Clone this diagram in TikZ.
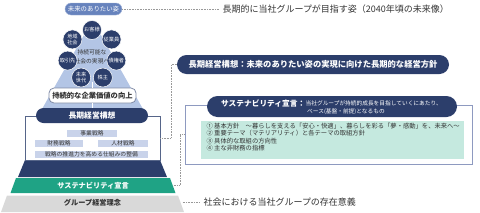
\documentclass[tikz,border=0pt]{standalone}
\usepackage{fontspec}
\setmainfont{Noto Sans CJK JP}
\usepackage{xcolor}
\usepackage{tikz}
\usepackage{tkz-euclide}
\usetikzlibrary{positioning}
\newcommand{\fsz}[2]{\fontsize{#1}{#2}\selectfont}
\definecolor{navy}{HTML}{2C3E6B}
\definecolor{steel}{HTML}{6783BD}
\definecolor{skyfill}{HTML}{B3C5E5}
\definecolor{stratfill}{HTML}{C9D3EA}
\definecolor{sdgreen}{HTML}{1FA385}
\definecolor{bandgrey}{HTML}{D9D9D9}
\definecolor{mint}{HTML}{C5E9DF}
\definecolor{frameline}{HTML}{8E9AC0}
\definecolor{textdark}{HTML}{333333}

\begin{document}
\begin{tikzpicture}[x=1pt,y=-1pt,
  conn/.style={draw=gray!80,line width=0.4pt,dash pattern=on 0.8pt off 0.8pt},
  pill/.style={rounded corners=9pt,fill=navy,text=white,inner sep=0pt},
  stake/.style={circle,fill=navy,draw=white,line width=0.5pt,text=white,
    minimum size=19pt,inner sep=0pt,align=center,font=\fsz{5.2}{6.3}},
  strat/.style={fill=stratfill,text=textdark,minimum height=7pt,inner sep=0pt,
    font=\fsz{5.8}{6}},
  band/.style={minimum height=14pt,inner sep=0pt,font=\fsz{7.2}{8}\bfseries},
  item/.style={right,text=textdark,font=\fsz{6.3}{7}}]
\useasboundingbox (0,0) rectangle (480,212);

% pyramid
\fill[skyfill] (92.5,20) -- (147.5,117) -- (37.5,117) -- cycle;

\tkzDefPoint(93.5,9){top};
\node at (top)[pill,rounded corners=6pt,fill=steel,draw=steel!60,minimum width=57pt,
  minimum height=12pt,font=\fsz{6.4}{7}] (future) {未来のありたい姿};

\tkzDefPoint(92,55){ring};
\node at (ring)[text=textdark,align=center,font=\fsz{5.8}{8.5},yshift=-2pt] (goal) {持続可能な\\社会の実現へ};
\node at ([shift={(-90:25)}]ring)[stake] (kyaku) {お客様};
\node at ([shift={(-141.4:25)}]ring)[stake] (chiiki) {地域\\社会};
\node at ([shift={(-192.9:25)}]ring)[stake] (torihiki) {取引先};
\node at ([shift={(-244.3:25)}]ring)[stake] (mirai) {未来\\世代};
\node at ([shift={(-295.7:25)}]ring)[stake] (kabunushi) {株主};
\node at ([shift={(-347.1:25)}]ring)[stake] (saiken) {債権者};
\node at ([shift={(-38.6:25)}]ring)[stake] (jugyoin) {従業員};

\tkzDefPoint(92.5,95.5){val};
\node at (val)[rounded corners=5pt,fill=white,draw=navy!60,line width=0.8pt,
  minimum width=87pt,minimum height=15pt,inner sep=0pt,text=textdark,
  font=\fsz{7.3}{8}\bfseries] (value) {持続的な企業価値の向上};

\fill[navy] (25,160) -- (160,160) -- (167,177) -- (18,177) -- cycle;
\node at (92.5,138)[draw=navy!80,fill=white,line width=0.6pt,minimum width=135pt,
  minimum height=44pt] (wbox) {};

\tkzDefPoint(92,115.5){pl};
\node at (pl)[pill,rounded corners=7.5pt,minimum width=112pt,minimum height=15pt,
  font=\fsz{7.8}{8}\bfseries] (plan) {長期経営構想};

\draw[white,line width=0.8pt] (value.north) -- ++(0,-6);
\draw[white,line width=0.8pt] (value.south) -- (value.south |- plan.north);

\node at (92,133.5)[strat,minimum width=50pt] (biz) {事業戦略};
\node at (59,143.5)[strat,minimum width=48pt] (fin) {財務戦略};
\node at (123,143.5)[strat,minimum width=50pt] (hr) {人材戦略};
\node at (91.5,154.5)[strat,minimum width=113pt] (drive) {戦略の推進力を高める仕組みの整備};

\fill[sdgreen] (16,178) -- (170,178) -- (175.5,193) -- (10.5,193) -- cycle;
\node at (93,185.5)[band,text=white,minimum width=161pt] (sust) {サステナビリティ宣言};

\fill[bandgrey] (7,195.5) -- (178,195.5) -- (184,212) -- (1,212) -- cycle;
\node at (92.5,202.5)[band,text=textdark,minimum width=180pt] (rinen) {グループ経営理念};

% right side
\tkzDefPoint(219,9){vis};
\node at (vis)[right,text=textdark,font=\fsz{9}{10}] (vision) {長期的に当社グループが目指す姿（2040年頃の未来像）};
\draw[conn] (future.east) -- (vision.west);

\tkzDefPoint(313,64.5){lp};
\node at (lp)[pill,rounded corners=9.5pt,minimum width=272pt,minimum height=19pt,
  font=\fsz{8.3}{9}\bfseries] (plan2) {長期経営構想：未来のありたい姿の実現に向けた長期的な経営方針};
\draw[conn] (wbox.east) -- ++(11,0) |- (plan2.west);

\node at (328.5,134.5)[draw=frameline,line width=0.8pt,minimum width=287pt,
  minimum height=59pt] (sdbox) {};
\node at (332,106.5)[pill,rounded corners=10.5pt,minimum width=250pt,
  minimum height=21pt] (sdpill) {};
\node at (221,103.5)[right,inner sep=0pt,text=white,font=\fsz{7.7}{8}\bfseries] (sdtitle) {サステナビリティ宣言：};
\node at (sdtitle.east)[right,inner sep=0pt,text=white,font=\fsz{5.7}{6}] (sdsub) {当社グループが持続的成長を目指していくにあたり、};
\node at (307,112)[right,inner sep=0pt,text=white,font=\fsz{5.7}{6}] (sdsub2) {ベース(基盤・前提)となるもの};

\node at (332.5,140)[fill=mint,minimum width=263pt,minimum height=38pt,inner sep=0pt] (sdlist) {};
\tkzDefPoint(203,126){it};
\node at (it)[item] (item1) {①\ 基本方針\quad 〜暮らしを支える「安心・快適」、暮らしを彩る「夢・感動」を、未来へ〜};
\node at (it)[item,yshift=-7.5pt] (item2) {②\ 重要テーマ（マテリアリティ）と各テーマの取組方針};
\node at (it)[item,yshift=-15pt] (item3) {③\ 具体的な取組の方向性};
\node at (it)[item,yshift=-22.5pt] (item4) {④\ 主な非財務の指標};
\draw[conn] (sust.east) -- ++(6,0) |- (sdbox.west);

\tkzDefPoint(200,202.5){pur};
\node at (pur)[right,text=textdark,font=\fsz{9}{10}] (purpose) {社会における当社グループの存在意義};
\draw[conn] (rinen.east) -- (purpose.west);
\end{tikzpicture}
\end{document}
